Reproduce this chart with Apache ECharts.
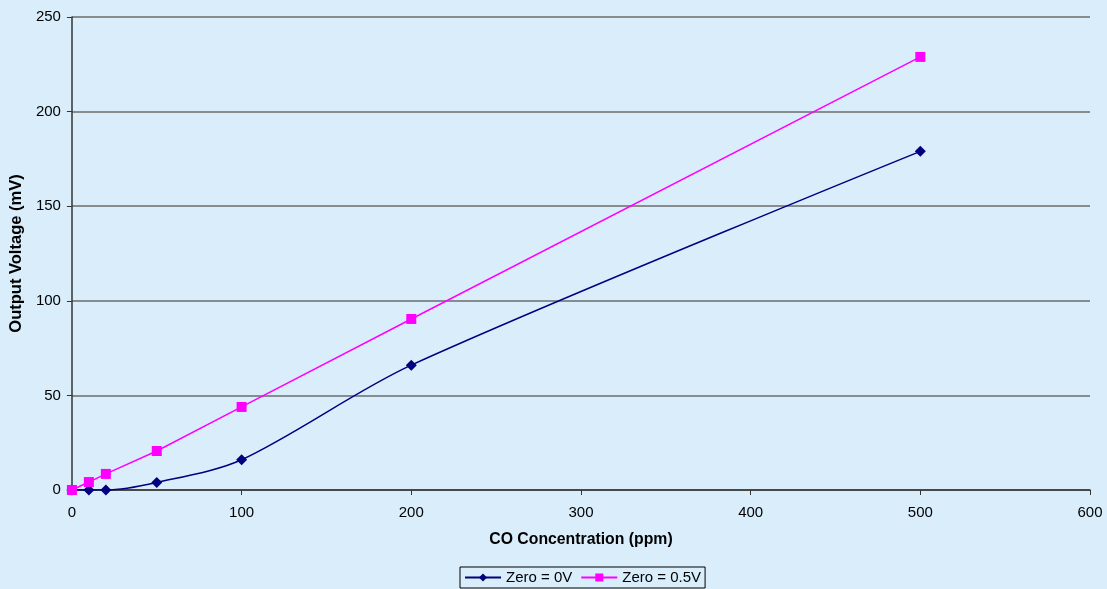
<!DOCTYPE html>
<html><head><meta charset="utf-8">
<script src="https://cdn.jsdelivr.net/npm/echarts@6/dist/echarts.min.js"></script>
<style>html,body{margin:0;padding:0;background:#d9edfb;}#c{width:1107px;height:589px;}</style>
</head><body><div id="c"></div>
<script>
const concentrations = [0, 10, 20, 50, 100, 200, 500];
const zero0V = [0, 0, 0, 4, 16, 66, 179];
const zero05V = [0, 4.2, 8.5, 20.6, 43.9, 90.4, 228.9];
const seriesNames = ['Zero = 0V', 'Zero = 0.5V'];
const xTitle = 'CO Concentration (ppm)';
const yTitle = 'Output Voltage (mV)';

const chart = echarts.init(document.getElementById('c'));
const font = 'Liberation Sans, Arial, sans-serif';
chart.setOption({
  backgroundColor: '#d9edfb',
  animation: false,
  textStyle: { fontFamily: font },
  grid: { left: 71, right: 17, top: 17, bottom: 99 },
  legend: {
    top: 567, left: 460,
    data: seriesNames,
    borderColor: '#000', borderWidth: 1, padding: [3, 4],
    itemGap: 8, itemWidth: 36, itemHeight: 10,
    textStyle: { fontFamily: font, fontSize: 15, color: '#000' }
  },
  xAxis: {
    type: 'value', min: 0, max: 600, interval: 100,
    name: xTitle, nameLocation: 'middle', nameGap: 42,
    nameTextStyle: { fontFamily: font, fontSize: 15.8, fontWeight: 'bold', color: '#000' },
    axisLine: { show: true, lineStyle: { color: '#333', width: 1.5 } },
    axisTick: { show: true, length: 5, lineStyle: { color: '#333' } },
    axisLabel: { fontFamily: font, fontSize: 15, color: '#000', margin: 15 },
    splitLine: { show: false }
  },
  yAxis: {
    type: 'value', min: 0, max: 250, interval: 50,
    name: yTitle, nameLocation: 'middle', nameGap: 45,
    nameTextStyle: { fontFamily: font, fontSize: 16.5, fontWeight: 'bold', color: '#000' },
    axisLine: { show: true, lineStyle: { color: '#333', width: 1.5 } },
    axisTick: { show: true, length: 5, lineStyle: { color: '#333' } },
    axisLabel: { fontFamily: font, fontSize: 15, color: '#000', margin: 11 },
    splitLine: { show: true, lineStyle: { color: '#6b6b6b', width: 1.5 } }
  },
  series: [
    {
      name: seriesNames[0], type: 'line', smooth: 0.3,
      data: concentrations.map((x, i) => [x, zero0V[i]]),
      symbol: 'diamond', symbolSize: 11,
      lineStyle: { color: '#000080', width: 1.5 },
      itemStyle: { color: '#000080' }
    },
    {
      name: seriesNames[1], type: 'line',
      data: concentrations.map((x, i) => [x, zero05V[i]]),
      symbol: 'rect', symbolSize: 10,
      lineStyle: { color: '#ff00ff', width: 1.5 },
      itemStyle: { color: '#ff00ff' }
    }
  ]
});
</script></body></html>
